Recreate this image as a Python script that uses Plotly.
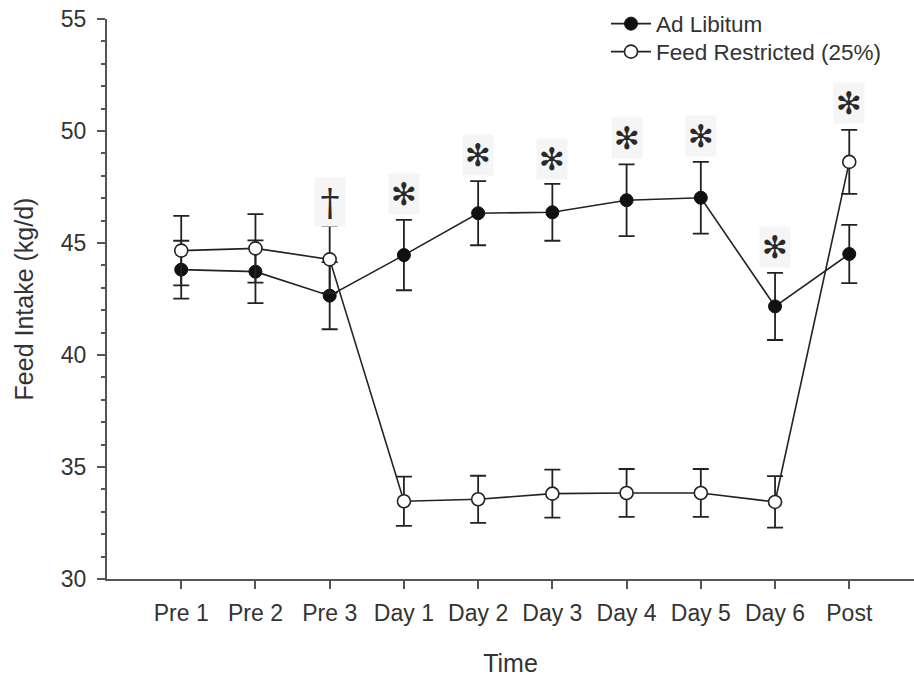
import plotly.graph_objects as go

categories = ["Pre 1", "Pre 2", "Pre 3", "Day 1", "Day 2", "Day 3", "Day 4", "Day 5", "Day 6", "Post"]
ad_libitum = [43.81, 43.72, 42.65, 44.46, 46.33, 46.37, 46.91, 47.02, 42.17, 44.51]
ad_libitum_err = [1.29, 1.40, 1.50, 1.57, 1.43, 1.27, 1.60, 1.60, 1.50, 1.30]
restricted = [44.66, 44.76, 44.27, 33.47, 33.56, 33.81, 33.84, 33.84, 33.44, 48.62]
restricted_err = [1.55, 1.53, 1.50, 1.10, 1.05, 1.07, 1.07, 1.07, 1.15, 1.43]

sig_categories = ["Pre 3", "Day 1", "Day 2", "Day 3", "Day 4", "Day 5", "Day 6", "Post"]
sig_marks = ["†", "✻", "✻", "✻", "✻", "✻", "✻", "✻"]
sig_y = [46.85, 47.2, 48.93, 48.74, 49.67, 49.78, 44.84, 51.24]

INK = "#222222"
AXIS = "#555555"
TXT = "#333333"
FONT = "Liberation Sans, Arial, sans-serif"

fig = go.Figure()
fig.add_trace(go.Scatter(
    x=categories, y=ad_libitum, name="Ad Libitum", mode="lines+markers",
    line=dict(color=INK, width=1.6),
    marker=dict(symbol="circle", size=13, color="#111111", line=dict(color="#111111", width=1)),
    error_y=dict(type="data", array=ad_libitum_err, visible=True, color=INK, thickness=1.8, width=8),
    legend="legend",
))
fig.add_trace(go.Scatter(
    x=categories, y=restricted, name="Feed Restricted (25%)", mode="lines+markers",
    line=dict(color=INK, width=1.6),
    marker=dict(symbol="circle", size=13, color="white", line=dict(color=INK, width=1.6)),
    error_y=dict(type="data", array=restricted_err, visible=True, color=INK, thickness=1.8, width=8),
    legend="legend2",
))

for c, m, y in zip(sig_categories, sig_marks, sig_y):
    dagger = m == "†"
    fig.add_annotation(
        x=c, y=y, xref="x", yref="y", text=m, showarrow=False,
        font=dict(family="DejaVu Serif" if dagger else "DejaVu Sans",
                  size=38 if dagger else 31, color="#2a2a2a"),
        bgcolor="#f5f5f5", width=30, height=48 if dagger else 40, borderpad=0,
        xanchor="center", yanchor="middle",
    )

legend_common = dict(
    xanchor="left", yanchor="middle", bgcolor="rgba(0,0,0,0)",
    font=dict(size=22.5, color=TXT, family=FONT), itemwidth=40,
)

fig.update_layout(
    width=914, height=679,
    margin=dict(l=107, r=0, t=19, b=100),
    paper_bgcolor="white", plot_bgcolor="white",
    font=dict(family=FONT, size=23, color=TXT),
    showlegend=True,
    legend=dict(x=(606 - 107) / 807, y=1 + (19 - 24) / 560, **legend_common),
    legend2=dict(x=(606 - 107) / 807, y=1 + (19 - 52) / 560, **legend_common),
    xaxis=dict(
        type="category", categoryorder="array", categoryarray=categories,
        range=[-1.0, 9.872], showgrid=False, zeroline=False,
        showline=True, linecolor=AXIS, linewidth=2,
        ticks="outside", ticklen=8, tickwidth=2, tickcolor=AXIS,
        tickfont=dict(size=23, color=TXT), ticklabelstandoff=4,
        title=dict(text="Time", font=dict(size=25, color=TXT), standoff=30),
    ),
    yaxis=dict(
        range=[30, 55], showgrid=False, zeroline=False,
        showline=True, linecolor=AXIS, linewidth=2,
        ticks="outside", ticklen=8, tickwidth=2, tickcolor=AXIS,
        tickvals=[30, 35, 40, 45, 50, 55], ticklabelstandoff=6,
        tickfont=dict(size=23, color=TXT),
        minor=dict(dtick=1, ticks="outside", ticklen=4, tickwidth=1.5, tickcolor=AXIS, showgrid=False),
        title=dict(text="Feed Intake (kg/d)", font=dict(size=25, color=TXT), standoff=20),
    ),
)

fig.write_html("out.html")
